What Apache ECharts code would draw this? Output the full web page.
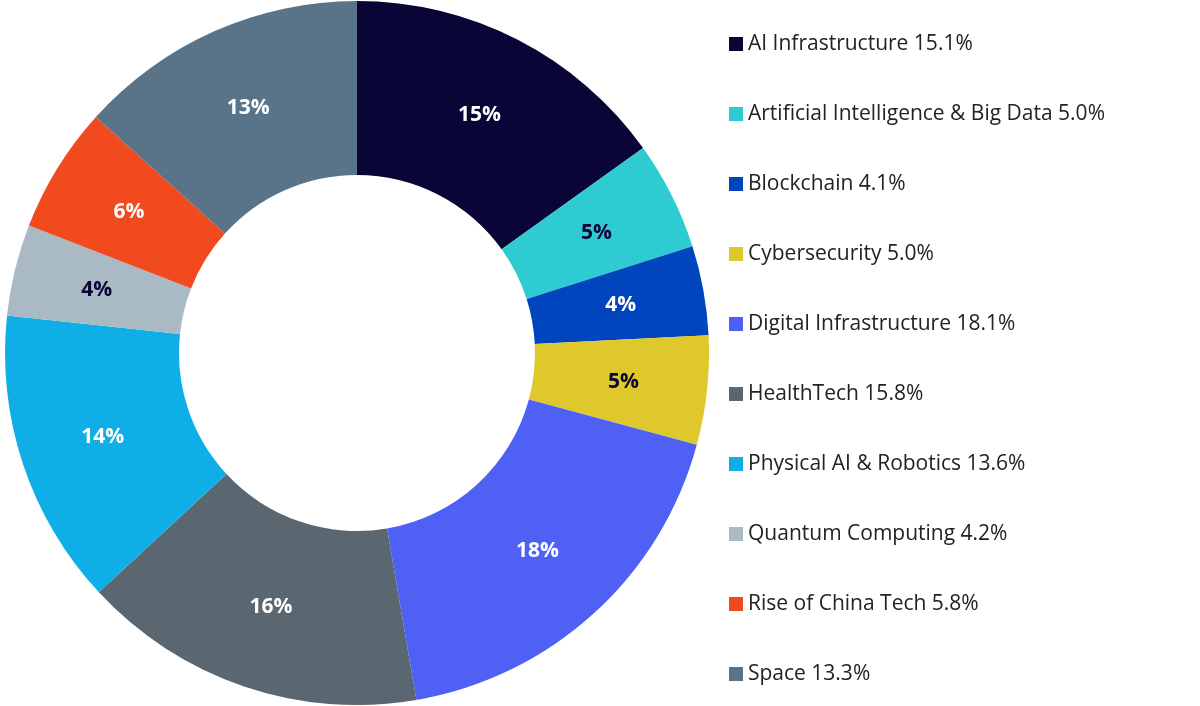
<!DOCTYPE html>
<html>
<head>
<meta charset="utf-8">
<script src="https://cdn.jsdelivr.net/npm/echarts@6/dist/echarts.min.js"></script>
<style>html,body{margin:0;padding:0;background:#fff}#chart{width:1200px;height:706px}</style>
</head>
<body>
<div id="chart"></div>
<script>
var categories = ['AI Infrastructure', 'Artificial Intelligence & Big Data', 'Blockchain', 'Cybersecurity',
    'Digital Infrastructure', 'HealthTech', 'Physical AI & Robotics', 'Quantum Computing', 'Rise of China Tech', 'Space'];
var weights = [15.1, 5.0, 4.1, 5.0, 18.1, 15.8, 13.6, 4.2, 5.8, 13.3];
var colors = ['#0a0537', '#2fcbd3', '#0045bd', '#dec82b', '#4f60f5', '#5a6770', '#10aee6', '#aabac5', '#f24a1f', '#597488'];
var labelColors = ['#fff', '#0a0537', '#fff', '#0a0537', '#fff', '#fff', '#fff', '#0a0537', '#fff', '#fff'];

var myChart = echarts.init(document.getElementById('chart'));

var data = categories.map(function (name, i) {
    return {
        name: name,
        value: weights[i],
        itemStyle: {color: colors[i]},
        label: {color: labelColors[i]}
    };
});

var option = {
    animation: false,
    legend: {
        orient: 'vertical',
        left: 724,
        top: 26,
        itemWidth: 14,
        itemHeight: 14,
        itemGap: 44,
        icon: 'rect',
        textStyle: {fontSize: 21, color: '#222', fontFamily: 'Open Sans', lineHeight: 26},
        formatter: function (name) {
            var i = categories.indexOf(name);
            return name + ' ' + weights[i].toFixed(1) + '%';
        },
        data: categories
    },
    series: [{
        type: 'pie',
        center: [357, 353],
        radius: [178, 352],
        startAngle: 90,
        clockwise: true,
        avoidLabelOverlap: false,
        label: {
            position: 'inside',
            fontSize: 21,
            fontWeight: 'bold',
            fontFamily: 'Open Sans',
            formatter: function (p) { return Math.round(p.value) + '%'; }
        },
        labelLine: {show: false},
        itemStyle: {borderColor: '#fff', borderWidth: 0},
        data: data
    }]
};
myChart.setOption(option);
</script>
</body>
</html>
